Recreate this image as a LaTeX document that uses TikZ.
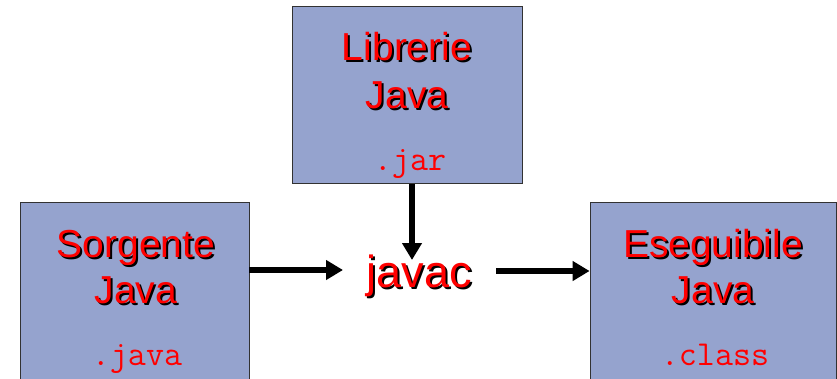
\documentclass[tikz,border=0pt]{standalone}
\usepackage{fontspec}
\setmainfont{Liberation Sans}
\usetikzlibrary{arrows.meta}
\definecolor{boxfill}{RGB}{149,163,206}
\definecolor{boxline}{RGB}{50,50,50}
\newcommand{\shad}[1]{\makebox[0pt][l]{\raisebox{-2pt}{\hspace{2pt}\color{black}#1}}\textcolor{red}{#1}}
\tikzset{
  jbox/.style={draw=boxline, line width=0.8pt, fill=boxfill, inner sep=0pt},
  ttl/.style={anchor=base, inner sep=0pt, font=\fontsize{39}{46}\selectfont},
  ext/.style={anchor=base, inner sep=0pt, text=red, font=\ttfamily\fontsize{35}{40}\selectfont},
  arr/.style={line width=6pt, -{Triangle[length=17pt,width=19pt]}}
}
\begin{document}
\begin{tikzpicture}[x=1pt,y=-1pt]
\useasboundingbox (0,0) rectangle (837,378);
% boxes
\node[jbox, minimum width=230pt, minimum height=177pt] (lib) at (407,95) {};
\node[jbox, minimum width=229pt, minimum height=190pt] (src) at (134.5,297) {};
\node[jbox, minimum width=246pt, minimum height=190pt] (exe) at (713,297) {};
% texts
\node[ttl] (libA) at (407,60) {\shad{Librerie}};
\node[ttl] (libB) at (407,108) {\shad{Java}};
\node[ext] (libC) at (410,170) {.jar};
\node[ttl] (srcA) at (136,257) {\shad{Sorgente}};
\node[ttl] (srcB) at (136,303) {\shad{Java}};
\node[ext] (srcC) at (137,365) {.java};
\node[ttl] (exeA) at (713,257) {\shad{Eseguibile}};
\node[ttl] (exeB) at (713,303) {\shad{Java}};
\node[ext] (exeC) at (715,365) {.class};
\node[anchor=base, inner sep=0pt, font=\fontsize{45}{50}\selectfont] (javac) at (419.5,287) {\shad{javac}};
% arrow ends
\coordinate (jin) at (343,270);
\coordinate (jtop) at (412,260);
\coordinate (jout) at (496,271);
\draw[arr] (src.east |- jin) -- (jin);
\draw[arr] (jtop |- lib.south) -- (jtop);
\draw[arr] (jout) -- (exe.west |- jout);
\end{tikzpicture}
\end{document}
